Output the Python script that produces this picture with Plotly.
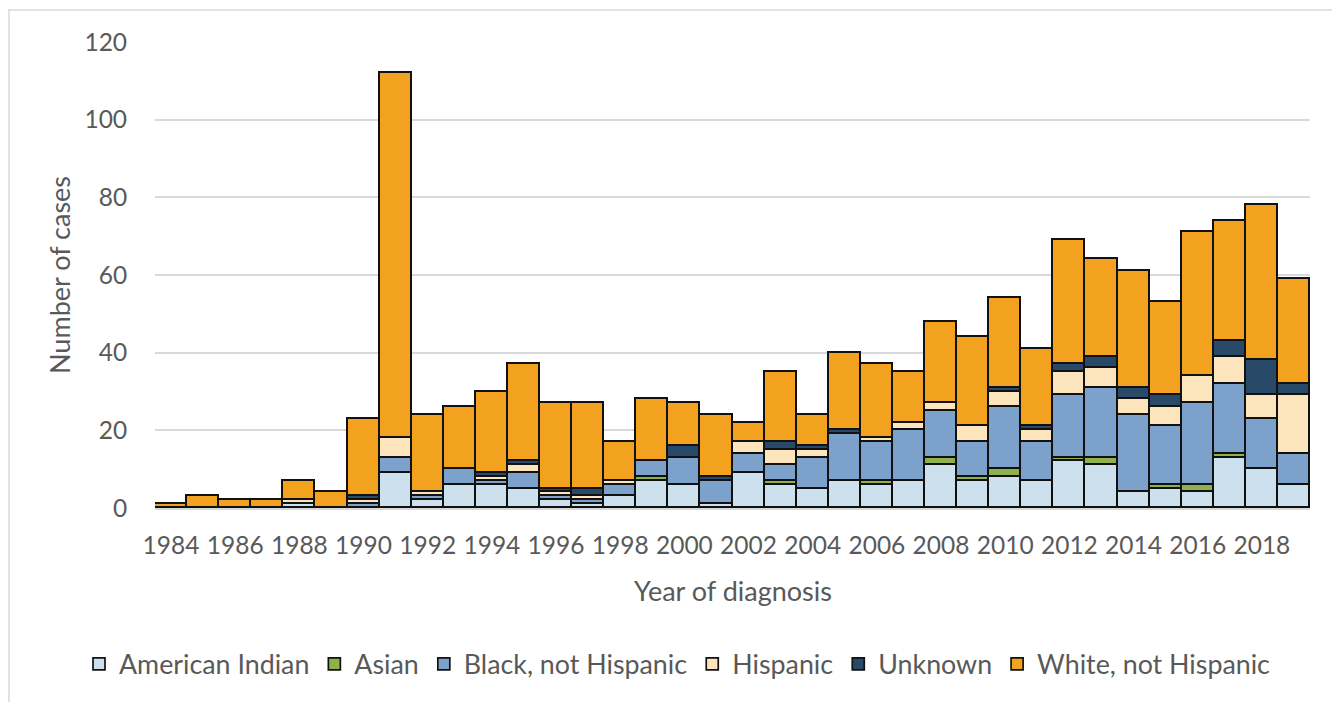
import plotly.graph_objects as go

years = list(range(1984, 2020))

american_indian = [0, 0, 0, 0, 1, 0, 0, 9, 2, 6, 6, 5, 2, 1, 3, 7, 6, 1, 9, 6,
                   5, 7, 6, 7, 11, 7, 8, 7, 12, 11, 4, 5, 4, 13, 10, 6]
asian = [0, 0, 0, 0, 0, 0, 0, 0, 0, 0, 0, 0, 0, 0, 0, 1, 0, 0, 0, 1,
         0, 0, 1, 0, 2, 1, 2, 0, 1, 2, 0, 1, 2, 1, 0, 0]
black = [0, 0, 0, 0, 0, 0, 1, 4, 1, 4, 1, 4, 1, 1, 3, 4, 7, 6, 5, 4,
         8, 12, 10, 13, 12, 9, 16, 10, 16, 18, 20, 15, 21, 18, 13, 8]
hispanic = [0, 0, 0, 0, 1, 0, 1, 5, 1, 0, 1, 2, 1, 1, 1, 0, 0, 0, 3, 4,
            2, 0, 1, 2, 2, 4, 4, 3, 6, 5, 4, 5, 7, 7, 6, 15]
unknown = [0, 0, 0, 0, 0, 0, 1, 0, 0, 0, 1, 1, 1, 2, 0, 0, 3, 1, 0, 2,
           1, 1, 0, 0, 0, 0, 1, 1, 2, 3, 3, 3, 0, 4, 9, 3]
white = [1, 3, 2, 2, 5, 4, 20, 94, 20, 16, 21, 25, 22, 22, 10, 16, 11, 16, 5, 18,
         8, 20, 19, 13, 21, 23, 23, 20, 32, 25, 30, 24, 37, 31, 40, 27]

series = [
    ("American Indian", american_indian, "#CDE0EE"),
    ("Asian", asian, "#8FB14C"),
    ("Black, not Hispanic", black, "#7CA2CB"),
    ("Hispanic", hispanic, "#FCE4BD"),
    ("Unknown", unknown, "#284968"),
    ("White, not Hispanic", white, "#F3A21F"),
]

tick_years = list(range(1984, 2019, 2))
y_ticks = [0, 20, 40, 60, 80, 100, 120]

FONT = "Lato"
GRAY = "#595959"

# page body has an 8px margin; the figure is sized to fill the rest
OFF = 8
W, H = 1340 - OFF, 702 - OFF
L, T = 155 - OFF, 42 - OFF
R = 1340 - 1310
B = 702 - 508
pw = W - L - R
ph = H - T - B


def px_x(px):
    return (px - OFF - L) / pw


def px_y(py):
    return (H - B - (py - OFF)) / ph


fig = go.Figure()
for name, vals, color in series:
    fig.add_trace(go.Bar(
        x=years, y=vals, name=name, width=1,
        marker=dict(color=color, line=dict(color="#111111", width=1.7)),
    ))

fig.update_layout(
    width=W, height=H,
    barmode="stack", bargap=0,
    margin=dict(l=L, r=R, t=T, b=B),
    paper_bgcolor="white", plot_bgcolor="white",
    font=dict(family=FONT, color=GRAY, size=24),
    showlegend=True,
    legend=dict(
        orientation="h", xref="paper", yref="paper",
        x=px_x(79), xanchor="left",
        y=px_y(664), yanchor="middle",
        font=dict(size=26.8, color=GRAY, family=FONT),
        traceorder="normal", itemwidth=30,
    ),
    xaxis=dict(
        range=[1983.5, 2019.5], tickmode="array", tickvals=tick_years,
        ticktext=[str(y) for y in tick_years],
        showgrid=False, showline=True, linecolor="#d9d9d9", linewidth=1.5,
        ticks="outside", ticklen=15, tickcolor="rgba(0,0,0,0)",
        tickfont=dict(size=24.5, color=GRAY, family=FONT), zeroline=False,
    ),
    yaxis=dict(
        range=[0, 120], tickmode="array", tickvals=y_ticks,
        showgrid=True, gridcolor="#d9d9d9", gridwidth=1.5,
        showline=False, zeroline=False,
        ticks="outside", ticklen=22, tickcolor="rgba(0,0,0,0)",
        tickfont=dict(size=24.5, color=GRAY, family=FONT),
    ),
    annotations=[
        dict(text="Year of diagnosis", xref="paper", yref="paper",
             x=px_x(733), y=0, yshift=-82, xanchor="center", yanchor="middle",
             showarrow=False, font=dict(size=27, color=GRAY, family=FONT)),
        dict(text="Number of cases", xref="paper", yref="paper",
             x=px_x(59), y=px_y(275), xanchor="center", yanchor="middle",
             textangle=-90, showarrow=False,
             font=dict(size=27, color=GRAY, family=FONT)),
    ],
    shapes=[
        dict(type="line", xref="paper", yref="paper",
             x0=px_x(8), x1=px_x(1345), y0=px_y(10), y1=px_y(10),
             line=dict(color="#d9d9d9", width=1.5)),
        dict(type="line", xref="paper", yref="paper",
             x0=px_x(9), x1=px_x(9), y0=px_y(10), y1=px_y(705),
             line=dict(color="#d9d9d9", width=1.5)),
    ],
)

fig.write_html("out.html")
